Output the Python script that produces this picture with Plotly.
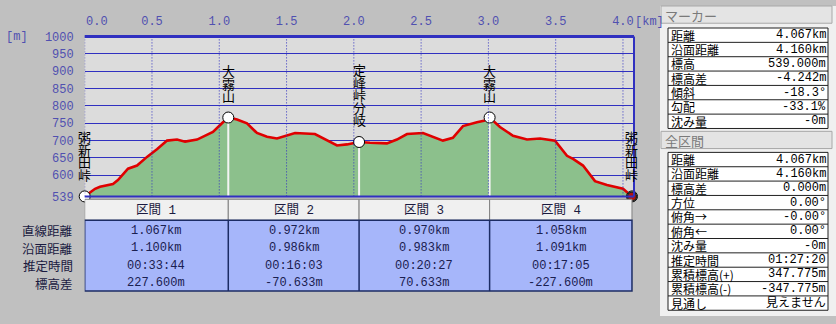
import plotly.graph_objects as go

W, H = 836, 324

# ---- profile data (distance km, elevation m) ----
dist_km = [0.0, 0.077, 0.114, 0.21, 0.247, 0.322, 0.389, 0.463, 0.537, 0.612, 0.686, 0.746,
           0.835, 0.879, 0.953, 1.02, 1.067, 1.132, 1.206, 1.28, 1.355, 1.429, 1.563, 1.711,
           1.875, 1.949, 2.039, 2.12, 2.246, 2.32, 2.395, 2.514, 2.588, 2.662, 2.736, 2.811,
           2.915, 2.975, 3.009, 3.086, 3.183, 3.287, 3.384, 3.495, 3.584, 3.629, 3.703, 3.792,
           3.881, 4.0, 4.067]
elev_m = [539, 561, 567, 575, 586, 619, 628, 653, 675, 700, 703, 697,
          703, 711, 725, 750, 766.6, 761, 750, 722, 711, 706, 722, 719,
          686, 689, 696, 694, 692, 703, 719, 722, 711, 700, 708, 742,
          753, 758, 766.6, 739, 714, 703, 706, 700, 656, 647, 628, 583,
          572, 561, 539]

# ---- waypoints ----
wp_km = [0.0, 1.067, 2.039, 3.009, 4.067]
wp_elev = [539.0, 766.6, 695.967, 766.6, 539.0]
wp_names = ["粥新田峠", "大霧山", "定峰峠分岐", "大霧山", "粥新田峠"]

# ---- section table ----
seg_headers = ["区間 1", "区間 2", "区間 3", "区間 4"]
row_labels = ["直線距離", "沿面距離", "推定時間", "標高差"]
seg_straight = ["1.067km", "0.972km", "0.970km", "1.058km"]
seg_surface = ["1.100km", "0.986km", "0.983km", "1.091km"]
seg_time = ["00:33:44", "00:16:03", "00:20:27", "00:17:05"]
seg_dh = ["227.600m", "-70.633m", "70.633m", "-227.600m"]

# ---- axes ticks ----
x_tick_text = ["0.5", "1.0", "1.5", "2.0", "2.5", "3.0", "3.5", "4.0"]
x_grid = [0.0, 0.5, 1.0, 1.5, 2.0, 2.5, 3.0, 3.5, 4.0]
y_ticks = [539, 600, 650, 700, 750, 800, 850, 900, 950, 1000]

# ---- side panel ----
marker_title = "マーカー"
marker_labels = ["距離", "沿面距離", "標高", "標高差", "傾斜", "勾配", "沈み量"]
marker_values = ["4.067km", "4.160km", "539.000m", "-4.242m", "-18.3°", "-33.1%", "-0m"]
total_title = "全区間"
total_labels = ["距離", "沿面距離", "標高差", "方位", "俯角→", "俯角←", "沈み量",
                "推定時間", "累積標高(+)", "累積標高(-)", "見通し"]
total_values = ["4.067km", "4.160km", "0.000m", "0.00°", "-0.00°", "0.00°", "-0m",
                "01:27:20", "347.775m", "-347.775m", "見えません"]

FONT = "Liberation Mono, Noto Sans CJK JP"
CJK = "Noto Sans CJK JP"
BLUE = "#3030c0"
TICKC = "#5050b0"


def px(x):
    return x / W


def py(y):
    return 1 - y / H


fig = go.Figure()

# profile
fig.add_trace(go.Scatter(x=dist_km, y=elev_m, mode="lines", fill="tozeroy",
                         fillcolor="#8cc08c", line=dict(color="#e00000", width=2.6),
                         hoverinfo="skip"))
# white drop lines at interior waypoints
for k, e in zip(wp_km[1:-1], wp_elev[1:-1]):
    fig.add_trace(go.Scatter(x=[k, k], y=[539, e], mode="lines",
                             line=dict(color="#f4f4f4", width=2), hoverinfo="skip"))
# waypoint markers
fig.add_trace(go.Scatter(x=wp_km, y=wp_elev, mode="markers", cliponaxis=False,
                         marker=dict(size=11, color="white", line=dict(color="black", width=1)),
                         hoverinfo="skip"))
# walker icon at the end
fig.add_trace(go.Scatter(x=[wp_km[-1]], y=[wp_elev[-1]], mode="markers", cliponaxis=False,
                         marker=dict(size=9, color="#b01010", symbol="circle",
                                     line=dict(color="#202020", width=1.5)),
                         hoverinfo="skip"))

ann = []
# vertical waypoint labels
for k, e, name in zip(wp_km, wp_elev, wp_names):
    n = len(name)
    for j, ch in enumerate(name):
        ann.append(dict(x=k, y=e, xref="x", yref="y", text=ch, showarrow=False,
                        xanchor="center", yanchor="middle", borderpad=0,
                        yshift=22 + (n - 1 - j) * 12.5,
                        font=dict(family=CJK, size=13, color="black")))

# axis extras
ann.append(dict(x=0.0, y=py(17), xref="x", yref="paper", text="0.0", showarrow=False,
                xanchor="center", yanchor="middle", xshift=12,
                font=dict(family=FONT, size=12, color=TICKC)))
ann.append(dict(x=4.0, y=py(17), xref="x", yref="paper", text="[km]", showarrow=False,
                xanchor="left", yanchor="middle", xshift=10,
                font=dict(family=FONT, size=12, color=TICKC)))
ann.append(dict(x=px(4), y=py(32), xref="paper", yref="paper", text="[m]", showarrow=False,
                xanchor="left", yanchor="middle",
                font=dict(family=FONT, size=12, color=TICKC)))

shapes = []
# dotted vertical grid drawn over the fill
for g in x_grid:
    shapes.append(dict(type="line", xref="x", yref="y domain", x0=g, x1=g, y0=0, y1=1,
                       line=dict(color=BLUE, width=1, dash="1px,2px"), layer="above"))
# plot borders
shapes.append(dict(type="line", xref="x domain", yref="y domain", x0=0, x1=1, y0=1, y1=1,
                   line=dict(color=BLUE, width=3), layer="above"))
shapes.append(dict(type="line", xref="x domain", yref="y domain", x0=1, x1=1, y0=0, y1=1,
                   line=dict(color=BLUE, width=2), layer="above"))
shapes.append(dict(type="line", xref="x domain", yref="y domain", x0=0, x1=1, y0=0, y1=0,
                   line=dict(color=BLUE, width=2), layer="above"))

# section table
hdr_top, hdr_bot, tbl_bot = 202, 224, 298
for i, h in enumerate(seg_headers):
    shapes.append(dict(type="rect", xref="x", yref="paper", x0=wp_km[i], x1=wp_km[i + 1],
                       y0=py(hdr_bot), y1=py(hdr_top), fillcolor="#f0f0f0",
                       line=dict(color="#808080", width=1)))
    ann.append(dict(x=(wp_km[i] + wp_km[i + 1]) / 2, y=py(213.5), xref="x", yref="paper",
                    text=h, showarrow=False, xanchor="center", yanchor="middle",
                    font=dict(family=FONT, size=12.5, color="#1a1a40")))
shapes.append(dict(type="rect", xref="x", yref="paper", x0=wp_km[0], x1=wp_km[-1],
                   y0=py(tbl_bot), y1=py(hdr_bot), fillcolor="#a6b6fa",
                   line=dict(color="#1c2c64", width=1.5)))
for k in wp_km[1:-1]:
    shapes.append(dict(type="line", xref="x", yref="paper", x0=k, x1=k,
                       y0=py(tbl_bot), y1=py(hdr_bot), line=dict(color="#1c2c64", width=1.5)))
rows = [seg_straight, seg_surface, seg_time, seg_dh]
for r, (lab, vals) in enumerate(zip(row_labels, rows)):
    yc = 235 + r * 18.3
    ann.append(dict(x=px(75), y=py(yc), xref="paper", yref="paper", text=lab, showarrow=False,
                    xanchor="right", yanchor="middle",
                    font=dict(family=CJK, size=12.5, color="#1a1a40")))
    for i, v in enumerate(vals):
        ann.append(dict(x=(wp_km[i] + wp_km[i + 1]) / 2, y=py(yc), xref="x", yref="paper",
                        text=v, showarrow=False, xanchor="center", yanchor="middle",
                        font=dict(family=FONT, size=12, color="#1a2050")))

# side panel
shapes.append(dict(type="rect", xref="paper", yref="paper", x0=px(660), x1=px(836),
                   y0=py(324), y1=py(0), fillcolor="#f0f0f0", line=dict(width=0), layer="below"))


def panel(title, t_top, labels, values, top, rh):
    shapes.append(dict(type="rect", xref="paper", yref="paper", x0=px(661), x1=px(832),
                       y0=py(t_top + 18), y1=py(t_top), fillcolor="#e4e4e4",
                       line=dict(color="#a8a8a8", width=1)))
    ann.append(dict(x=px(663), y=py(t_top + 9.5), xref="paper", yref="paper", text=title,
                    showarrow=False, xanchor="left", yanchor="middle",
                    font=dict(family=CJK, size=13, color="#7a7a7a")))
    n = len(labels)
    shapes.append(dict(type="rect", xref="paper", yref="paper", x0=px(668), x1=px(828),
                       y0=py(top + n * rh), y1=py(top), fillcolor="white",
                       line=dict(color="#202020", width=1)))
    for i, (lab, val) in enumerate(zip(labels, values)):
        if i > 0:
            shapes.append(dict(type="line", xref="paper", yref="paper", x0=px(668), x1=px(828),
                               y0=py(top + i * rh), y1=py(top + i * rh),
                               line=dict(color="#202020", width=1)))
        yc = top + (i + 0.5) * rh
        ann.append(dict(x=px(670), y=py(yc), xref="paper", yref="paper", text=lab,
                        showarrow=False, xanchor="left", yanchor="middle", borderpad=0,
                        font=dict(family=CJK, size=12, color="black")))
        ann.append(dict(x=px(827), y=py(yc), xref="paper", yref="paper", text=val,
                        showarrow=False, xanchor="right", yanchor="middle", borderpad=0,
                        font=dict(family=FONT, size=12, color="black")))


panel(marker_title, 0, marker_labels, marker_values, 23, 15)
panel(total_title, 131, total_labels, total_values, 153, 15)

fig.update_layout(
    width=W, height=H, margin=dict(l=0, r=0, t=0, b=0),
    paper_bgcolor="#c0c0c0", plot_bgcolor="#dcdcdc", showlegend=False,
    xaxis=dict(domain=[px(84.7), px(634)], range=[0, 4.082], side="top",
               tickmode="array", tickvals=x_grid,
               ticktext=[""] + x_tick_text, showgrid=False, zeroline=False,
               showline=False, ticks="",
               tickfont=dict(family=FONT, size=12, color=TICKC), ticklabelstandoff=8,
               fixedrange=True),
    yaxis=dict(domain=[py(199), py(32)], range=[539, 1000], tickmode="array",
               tickvals=y_ticks, ticktext=[str(v) for v in y_ticks], showgrid=True,
               gridcolor=BLUE, gridwidth=1, zeroline=False, showline=False, ticks="",
               tickfont=dict(family=FONT, size=12, color=TICKC), ticklabelstandoff=10,
               fixedrange=True),
    annotations=ann, shapes=shapes,
)

fig.write_html("out.html")
